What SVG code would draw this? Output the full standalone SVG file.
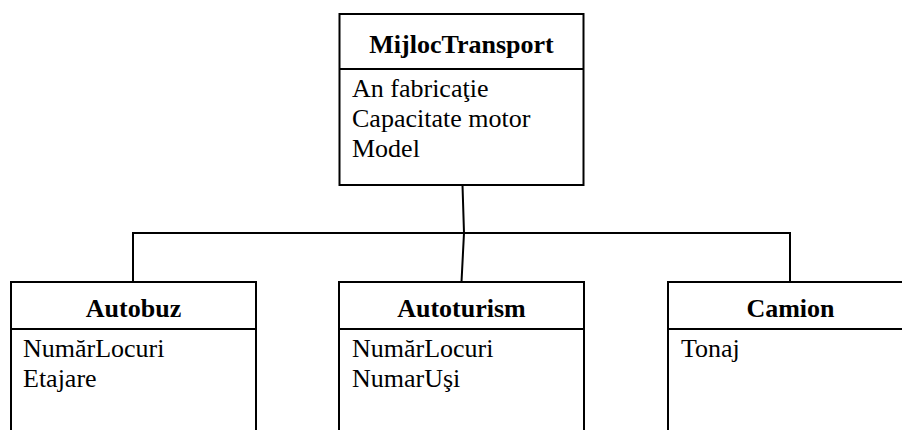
<svg xmlns="http://www.w3.org/2000/svg" width="902" height="430" viewBox="0 0 902 430" font-family="Liberation Serif, DejaVu Serif, serif" font-size="26">
<style>
.box{fill:#fff;stroke:#000;stroke-width:2}
.div{stroke:#000;stroke-width:2}
.t{font-weight:bold;text-anchor:middle}
.c{fill:none;stroke:#000;stroke-width:2}
</style>
<rect width="902" height="430" fill="#fff"/>
<g id="connectors">
<polyline class="c" points="462.5,185 464,233 461.5,282"/>
<polyline class="c" points="133,282 133,233 790,233 790,282"/>
</g>
<g id="MijlocTransport">
<rect class="box" x="339.5" y="14" width="244" height="171"/>
<line class="div" x1="339.5" y1="69" x2="583.5" y2="69"/>
<text class="t" x="461.5" y="53">MijlocTransport</text>
<text x="352" y="97">An fabricaţie</text>
<text x="352" y="127">Capacitate motor</text>
<text x="352" y="157">Model</text>
</g>
<g id="Autobuz">
<rect class="box" x="11" y="282" width="245" height="160"/>
<line class="div" x1="11" y1="329" x2="256" y2="329"/>
<text class="t" x="133.5" y="317">Autobuz</text>
<text x="23" y="357">NumărLocuri</text>
<text x="23" y="387">Etajare</text>
</g>
<g id="Autoturism">
<rect class="box" x="339" y="282" width="245" height="160"/>
<line class="div" x1="339" y1="329" x2="584" y2="329"/>
<text class="t" x="461.5" y="317">Autoturism</text>
<text x="352" y="357">NumărLocuri</text>
<text x="352" y="387">NumarUşi</text>
</g>
<g id="Camion">
<rect class="box" x="668" y="282" width="245" height="160"/>
<line class="div" x1="668" y1="329" x2="913" y2="329"/>
<text class="t" x="790.5" y="317">Camion</text>
<text x="681" y="357">Tonaj</text>
</g>
</svg>
